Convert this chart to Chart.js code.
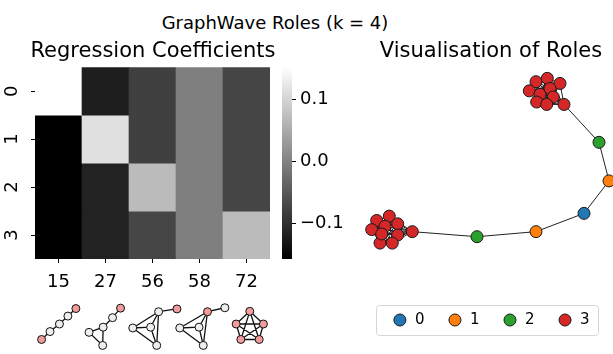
<!DOCTYPE html>
<html>
<head>
<meta charset="utf-8">
<script src="https://cdn.jsdelivr.net/npm/chart.js@4.4.0/dist/chart.umd.min.js"></script>
<style>
  html, body { margin: 0; padding: 0; background: #fff; overflow: hidden; }
  body { width: 613px; height: 354px; position: relative; font-family: 'DejaVu Sans', sans-serif; }
  canvas { position: absolute; }
  #suptitle { position: absolute; left: 0; top: 13px; width: 550px; text-align: center;
              font-size: 18px; line-height: 20px; color: #000; }
</style>
</head>
<body>
<div id="suptitle">GraphWave Roles (k = 4)</div>
<canvas id="heatmap" width="306" height="290" style="left:0;top:0"></canvas>
<canvas id="colorbar" width="80" height="290" style="left:270px;top:0"></canvas>
<canvas id="motifs" width="300" height="64" style="left:0;top:290px"></canvas>
<canvas id="network" width="302" height="354" style="left:340px;top:0"></canvas>
<script>
// données de la carte de chaleur
const orbitLabels = ['15', '27', '56', '58', '72'];
const roleLabels = ['0', '1', '2', '3'];
const coefRole0 = [0.153, -0.121, -0.080, -0.003, -0.074];
const coefRole1 = [-0.158, 0.115, -0.080, -0.003, -0.074];
const coefRole2 = [-0.158, -0.117, 0.070, -0.003, -0.074];
const coefRole3 = [-0.158, -0.117, -0.073, -0.003, 0.070];
const colorbarTicks = [-0.1, 0.0, 0.1];

// petits graphes sous chaque colonne (dx, dy, surligné)
const motifNodes = [
  [[-0.36, 0.24, 1], [-0.18, 0.44, 0], [0.02, 0.63, 0], [0.20, 0.83, 0], [0.37, 1.02, 1]],
  [[-0.35, 0.42, 0], [-0.05, 0.55, 0], [0.15, 0.79, 0], [0.32, 1.03, 1], [-0.06, 0.09, 0]],
  [[-0.42, 0.53, 0], [-0.04, 0.55, 0], [0.13, 0.94, 0], [0.52, 1.01, 1], [0.09, 0.09, 0]],
  [[-0.42, 0.53, 0], [-0.01, 0.55, 0], [0.17, 0.94, 1], [0.54, 1.04, 0], [0.08, 0.09, 0]],
  [[0.07, 0.95, 1], [-0.22, 0.63, 1], [0.36, 0.63, 1], [-0.12, 0.24, 1], [0.27, 0.24, 1]]
];
const motifEdges = [
  [[0, 1], [1, 2], [2, 3], [3, 4]],
  [[0, 1], [1, 2], [2, 3], [0, 4], [1, 4]],
  [[0, 1], [0, 2], [0, 4], [1, 2], [1, 4], [2, 4], [2, 3]],
  [[0, 1], [0, 2], [0, 4], [1, 2], [1, 4], [2, 4], [2, 3]],
  [[0, 1], [0, 2], [0, 3], [0, 4], [1, 2], [1, 3], [1, 4], [2, 3], [2, 4], [3, 4]]
];

// graphe haltère : positions du layout
const roleNames = ['0', '1', '2', '3'];
const roleColors = ['#1f77b4', '#ff7f0e', '#2ca02c', '#d62728'];
const nodeX = [0.367, 0.493, 0.577, 0.317, 0.450, 0.577, 0.400, 0.523, 0.417, 0.723,
               1.370, 1.960, 2.440, 2.690, 2.590,
               2.240, 1.960, 2.073, 2.200, 1.893, 2.000, 2.100, 2.133, 1.967, 2.067];
const nodeY = [1.340, 1.383, 1.307, 1.250, 1.283, 1.197, 1.117, 1.117, 1.207, 1.230,
               1.180, 1.230, 1.410, 1.730, 2.110,
               2.483, 2.707, 2.740, 2.690, 2.617, 2.583, 2.640, 2.557, 2.507, 2.483];
const nodeRole = [3, 3, 3, 3, 3, 3, 3, 3, 3, 3,
                  2, 1, 0, 1, 2,
                  3, 3, 3, 3, 3, 3, 3, 3, 3, 3];
const cliqueA = [0, 1, 2, 3, 4, 5, 6, 7, 8, 9];
const cliqueB = [15, 16, 17, 18, 19, 20, 21, 22, 23, 24];
const pathNodes = [9, 10, 11, 12, 13, 14, 15];

const FONT = 'DejaVu Sans';
Chart.defaults.font.family = FONT;
Chart.defaults.color = '#000';

const coefficients = [coefRole0, coefRole1, coefRole2, coefRole3];
const vmin = Math.min(...coefficients.flat());
const vmax = Math.max(...coefficients.flat());

function grayFor(v) {
  const g = Math.round((v - vmin) / (vmax - vmin) * 255);
  return 'rgb(' + g + ',' + g + ',' + g + ')';
}

function fmtTick(v) {
  const s = Math.abs(v).toFixed(1);
  return v < -1e-9 ? '\u2212' + s : s;
}

const tickGrid = { display: true, drawOnChartArea: false, drawTicks: true, tickLength: 4, color: '#000', lineWidth: 1 };

// carte de chaleur
new Chart(document.getElementById('heatmap'), {
  type: 'bar',
  data: {
    labels: orbitLabels,
    datasets: coefficients.map((row, r) => ({
      label: 'role ' + roleLabels[r],
      data: row.map(() => [r, r + 1]),
      backgroundColor: row.map(grayFor),
      borderWidth: 0,
      barPercentage: 1,
      categoryPercentage: 1,
      grouped: false
    }))
  },
  options: {
    responsive: false,
    animation: false,
    events: [],
    layout: { padding: 0 },
    plugins: {
      legend: { display: false },
      tooltip: { enabled: false },
      title: {
        display: true,
        text: 'Regression Coefficients',
        color: '#000',
        font: { family: FONT, size: 21, weight: 'normal' },
        padding: { top: 39, bottom: 3 }
      }
    },
    scales: {
      x: {
        ticks: { font: { size: 18 }, color: '#000', padding: 9, maxRotation: 0, autoSkip: false },
        grid: Object.assign({ offset: false }, tickGrid),
        border: { display: false },
        afterFit: s => { s.height = 31; }
      },
      y: {
        min: 0,
        max: 4,
        reverse: true,
        afterBuildTicks: s => { s.ticks = roleLabels.map((_, i) => ({ value: i + 0.5 })); },
        ticks: {
          callback: v => roleLabels[Math.floor(v)],
          font: { size: 18 },
          color: '#000',
          minRotation: 90,
          maxRotation: 90,
          crossAlign: 'center',
          padding: 13
        },
        grid: tickGrid,
        border: { display: false },
        afterFit: s => { s.width = 35; }
      },
      yr: {
        position: 'right',
        display: true,
        ticks: { display: false },
        grid: { display: false },
        border: { display: false },
        afterFit: s => { s.width = 36; }
      }
    }
  }
});

// barre de couleurs
new Chart(document.getElementById('colorbar'), {
  type: 'bar',
  data: {
    labels: [''],
    datasets: [{
      data: [[vmin, vmax]],
      backgroundColor: c => {
        const ys = c.chart.scales.y;
        if (!ys || !c.chart.chartArea) return '#808080';
        const g = c.chart.ctx.createLinearGradient(0, ys.getPixelForValue(vmin), 0, ys.getPixelForValue(vmax));
        g.addColorStop(0, '#000');
        g.addColorStop(1, '#fff');
        return g;
      },
      borderWidth: 0,
      barPercentage: 1,
      categoryPercentage: 1
    }]
  },
  options: {
    responsive: false,
    animation: false,
    events: [],
    layout: { padding: { left: 12, top: 67, bottom: 31, right: 0 } },
    plugins: { legend: { display: false }, tooltip: { enabled: false } },
    scales: {
      x: { display: false },
      y: {
        position: 'right',
        min: vmin,
        max: vmax,
        afterBuildTicks: s => { s.ticks = colorbarTicks.map(v => ({ value: v })); },
        ticks: { callback: fmtTick, font: { size: 18 }, color: '#000', padding: 4 },
        grid: tickGrid,
        border: { display: false },
        afterFit: s => { s.width = 58; }
      }
    }
  }
});

// motifs sous les colonnes
const motifEdgePts = [];
const motifNodePts = [];
const motifFill = [];
motifNodes.forEach((nodes, col) => {
  motifEdges[col].forEach(([a, b]) => {
    motifEdgePts.push({ x: col + nodes[a][0], y: nodes[a][1] });
    motifEdgePts.push({ x: col + nodes[b][0], y: nodes[b][1] });
    motifEdgePts.push({ x: col, y: null });
  });
  nodes.forEach(n => {
    motifNodePts.push({ x: col + n[0], y: n[1] });
    motifFill.push(n[2] ? '#f09c9c' : '#eeeeee');
  });
});

new Chart(document.getElementById('motifs'), {
  type: 'scatter',
  data: {
    datasets: [
      { data: motifNodePts, pointRadius: 4, pointBackgroundColor: motifFill, pointBorderColor: '#111', pointBorderWidth: 1, clip: false, order: 1 },
      { data: motifEdgePts, showLine: true, spanGaps: false, pointRadius: 0, borderColor: '#111', borderWidth: 1.3, clip: false, order: 2 }
    ]
  },
  options: {
    responsive: false,
    animation: false,
    events: [],
    layout: { padding: { left: 35, right: 30, top: 0, bottom: 0 } },
    plugins: { legend: { display: false }, tooltip: { enabled: false } },
    scales: {
      x: { type: 'linear', display: false, min: -0.5, max: 4.5 },
      y: { type: 'linear', display: false, min: 0, max: 64 / 47 }
    }
  }
});

// réseau coloré par rôle
const networkEdges = [];
[cliqueA, cliqueB].forEach(cl => {
  for (let i = 0; i < cl.length; i++) {
    for (let j = i + 1; j < cl.length; j++) networkEdges.push([cl[i], cl[j]]);
  }
});
for (let i = 0; i < pathNodes.length - 1; i++) networkEdges.push([pathNodes[i], pathNodes[i + 1]]);

const edgePts = [];
networkEdges.forEach(([a, b]) => {
  edgePts.push({ x: nodeX[a], y: nodeY[a] }, { x: nodeX[b], y: nodeY[b] }, { x: nodeX[b], y: null });
});

const legendFrame = {
  id: 'legendFrame',
  afterDraw(chart) {
    const boxes = chart.legend && chart.legend.legendHitBoxes;
    if (!boxes || !boxes.length) return;
    const first = boxes[0];
    const last = boxes[boxes.length - 1];
    const left = first.left - 16.5;
    const right = last.left + last.width + 8;
    const cy = first.top + first.height / 2;
    const ctx = chart.ctx;
    ctx.save();
    ctx.strokeStyle = '#d6d6d6';
    ctx.lineWidth = 1;
    ctx.beginPath();
    if (ctx.roundRect) ctx.roundRect(Math.round(left) + 0.5, Math.round(cy - 15) + 0.5, Math.round(right - left), 30, 3);
    else ctx.rect(Math.round(left) + 0.5, Math.round(cy - 15) + 0.5, Math.round(right - left), 30);
    ctx.stroke();
    ctx.restore();
  }
};

new Chart(document.getElementById('network'), {
  type: 'scatter',
  data: {
    datasets: [
      { label: 'edges', data: edgePts, showLine: true, spanGaps: false, pointRadius: 0, borderColor: '#222', borderWidth: 1, clip: false, order: 2 }
    ].concat(roleNames.map((name, r) => ({
      label: name,
      data: nodeX.map((x, i) => ({ x: x, y: nodeY[i], r: nodeRole[i] })).filter(p => p.r === r),
      backgroundColor: roleColors[r],
      borderColor: '#1a1a1a',
      borderWidth: 1,
      pointRadius: 6,
      pointStyle: 'circle',
      clip: false,
      order: 1
    })))
  },
  options: {
    responsive: false,
    animation: false,
    events: [],
    layout: { padding: { left: 0, right: 0, top: 0, bottom: 16.5 } },
    plugins: {
      tooltip: { enabled: false },
      title: {
        display: true,
        text: 'Visualisation of Roles',
        color: '#000',
        font: { family: FONT, size: 21, weight: 'normal' },
        padding: { top: 39, bottom: 3 }
      },
      legend: {
        position: 'bottom',
        labels: {
          usePointStyle: true,
          pointStyle: 'circle',
          boxHeight: 8.5,
          padding: 23,
          color: '#000',
          font: { family: FONT, size: 15 },
          filter: item => item.text !== 'edges'
        }
      }
    },
    scales: {
      x: { type: 'linear', display: false, min: 0.07, max: 2.95 },
      y: { type: 'linear', display: false, min: 0.66, max: 2.85 }
    }
  },
  plugins: [legendFrame]
});
</script>
</body>
</html>
